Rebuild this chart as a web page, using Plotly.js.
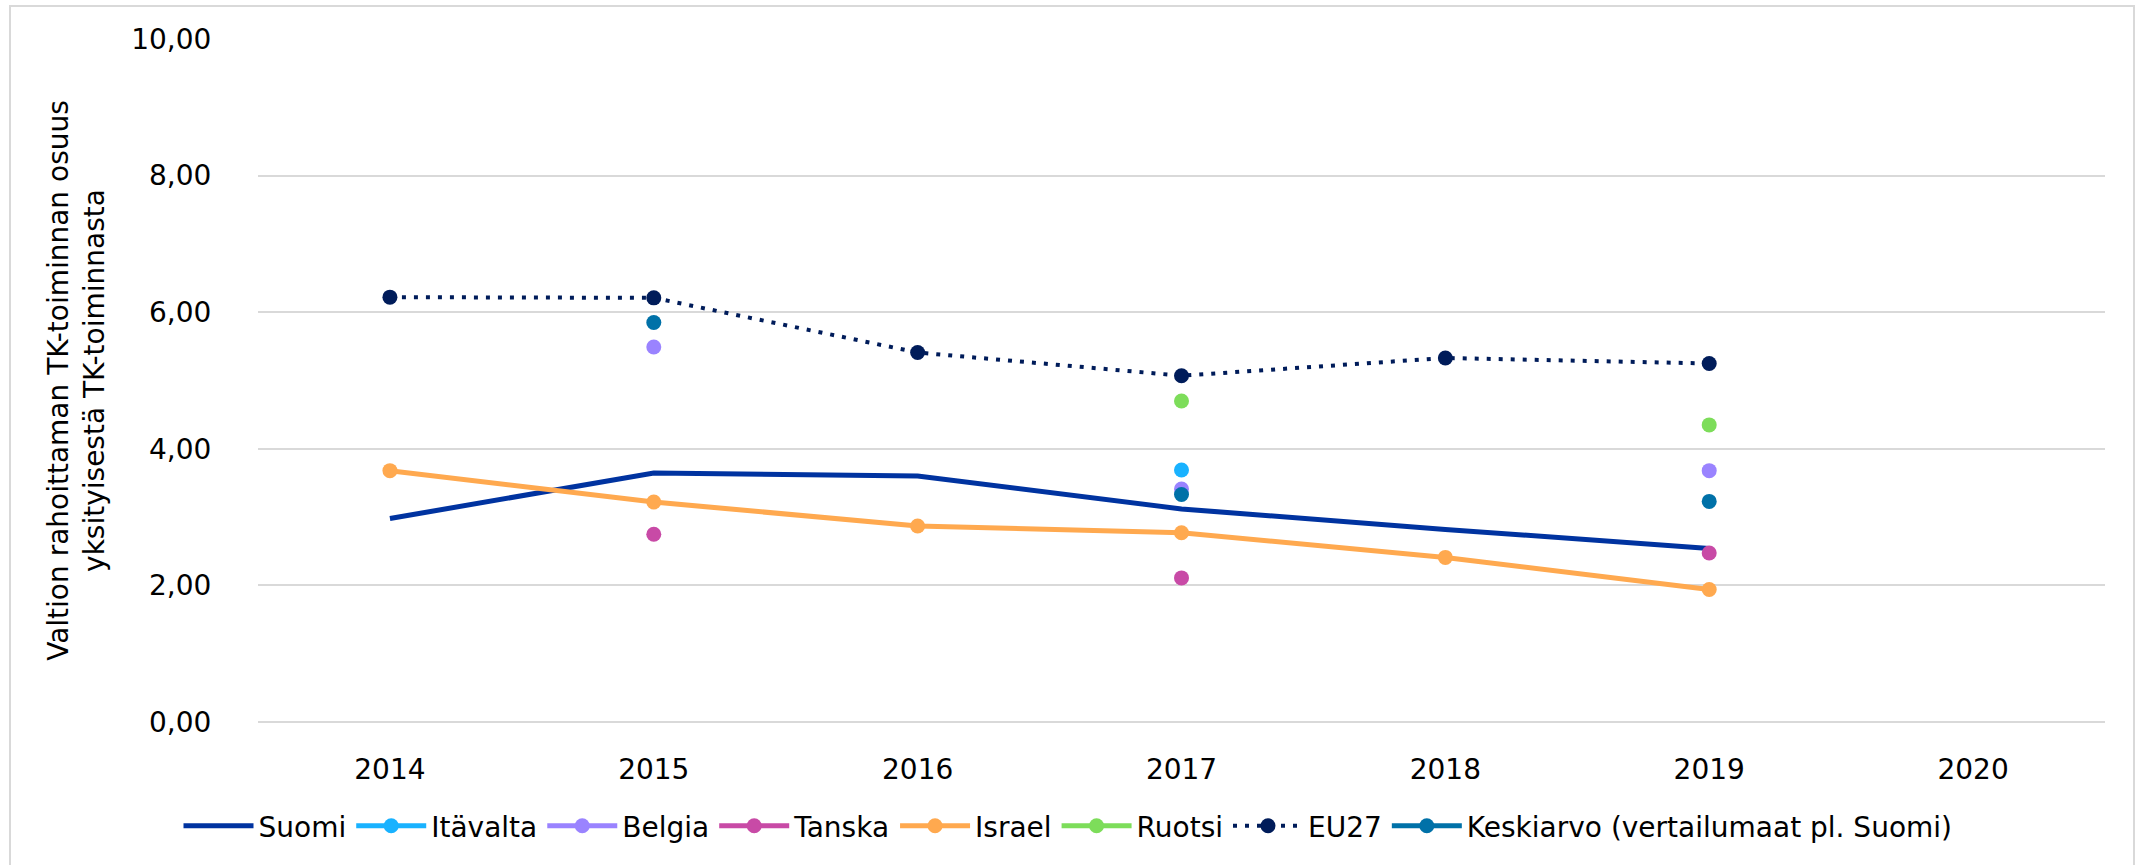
<!DOCTYPE html>
<html>
<head>
<meta charset="utf-8">
<script src="https://cdn.plot.ly/plotly-3.0.1.min.js"></script>
<style>
  html, body { margin: 0; padding: 0; background: #ffffff; }
  #chart { width: 2136px; height: 865px; }
</style>
</head>
<body>
<div id="chart"></div>
<script>
// ---- Data ----
const years = ["2014", "2015", "2016", "2017", "2018", "2019", "2020"];
const suomi     = [2.98, 3.645, 3.60, 3.12, 2.82, 2.54, null];
const itavalta  = [null, null, null, 3.69, null, null, null];
const belgia    = [null, 5.49, null, 3.41, null, 3.68, null];
const tanska    = [null, 2.75, null, 2.11, null, 2.475, null];
const israel    = [3.68, 3.22, 2.87, 2.77, 2.41, 1.94, null];
const ruotsi    = [null, null, null, 4.70, null, 4.35, null];
const eu27      = [6.22, 6.21, 5.41, 5.07, 5.33, 5.25, null];
const keskiarvo = [null, 5.85, null, 3.33, null, 3.23, null];
const yTicks = [0, 2, 4, 6, 8, 10];

const FONT = "DejaVu Sans, Verdana, sans-serif";
const FS = 28;

function series(name, y, color, opts) {
  return Object.assign({
    type: "scatter",
    mode: "lines+markers",
    name: name,
    x: years,
    y: y,
    connectgaps: false,
    line: { color: color, width: 5 },
    marker: { color: color, size: 15, symbol: "circle" },
    cliponaxis: false
  }, opts || {});
}

const traces = [
  series("Suomi", suomi, "#0033a0", { mode: "lines", line: { color: "#0033a0", width: 5 } }),
  series("Itävalta", itavalta, "#19b2ff"),
  series("Belgia", belgia, "#9a83ff"),
  series("Tanska", tanska, "#c84aa6"),
  series("Israel", israel, "#ffa94f"),
  series("Ruotsi", ruotsi, "#7ddd5a"),
  series("EU27", eu27, "#001c5a", { line: { color: "#001c5a", width: 4, dash: "4px,8px" }, marker: { color: "#001c5a", size: 15 } }),
  series("Keskiarvo (vertailumaat pl. Suomi)", keskiarvo, "#0071a8")
];

const L = 258, R = 2105, T = 39, B = 722;
const pw = R - L, ph = B - T;
function px2x(p) { return (p - L) / pw; }
function py2y(p) { return (B - p) / ph; }

const layout = {
  width: 2136,
  height: 865,
  margin: { l: L, r: 2136 - R, t: T, b: 865 - B, pad: 0 },
  paper_bgcolor: "#ffffff",
  plot_bgcolor: "#ffffff",
  separators: ", ",
  font: { family: FONT, size: FS, color: "#000000" },
  showlegend: true,
  legend: {
    orientation: "h",
    xref: "container",
    x: 0.5,
    xanchor: "center",
    yref: "container",
    y: 0.045,
    yanchor: "middle",
    font: { family: FONT, size: FS, color: "#000000" },
    itemwidth: 70,
    traceorder: "normal",
    bgcolor: "rgba(0,0,0,0)"
  },
  xaxis: {
    type: "category",
    categoryorder: "array",
    categoryarray: years,
    range: [-0.5, 6.5],
    showgrid: false,
    zeroline: false,
    showline: false,
    ticks: "outside",
    ticklen: 22,
    tickcolor: "rgba(0,0,0,0)",
    tickfont: { family: FONT, size: FS, color: "#000000" },
    fixedrange: true
  },
  yaxis: {
    range: [0, 10],
    tickvals: yTicks,
    tickformat: ".2f",
    showgrid: true,
    gridcolor: "#d9d9d9",
    gridwidth: 2,
    zeroline: true,
    zerolinecolor: "#d9d9d9",
    zerolinewidth: 2,
    showline: false,
    ticks: "outside",
    ticklen: 40,
    tickcolor: "rgba(0,0,0,0)",
    tickfont: { family: FONT, size: FS, color: "#000000" },
    title: {
      text: "Valtion rahoittaman TK-toiminnan osuus<br>yksityisestä TK-toiminnasta",
      font: { family: FONT, size: FS, color: "#000000" },
      standoff: 18
    },
    fixedrange: true
  },
  shapes: [{
    type: "rect",
    xref: "paper", yref: "paper",
    x0: px2x(10), x1: px2x(2134),
    y0: py2y(872), y1: py2y(6),
    line: { color: "#d9d9d9", width: 2 },
    fillcolor: "rgba(0,0,0,0)",
    layer: "below"
  }]
};

Plotly.newPlot("chart", traces, layout, { displayModeBar: false, staticPlot: true });
</script>
</body>
</html>
